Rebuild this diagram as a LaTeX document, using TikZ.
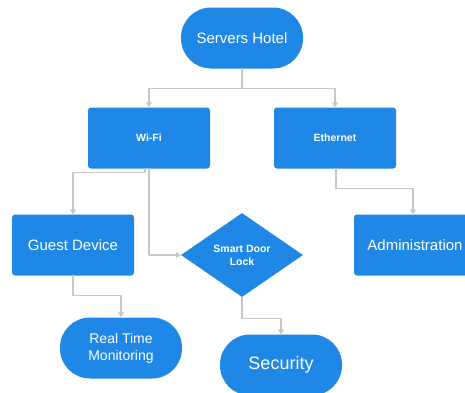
\documentclass[tikz,border=0pt]{standalone}
\usepackage{fontspec}
\setmainfont{Liberation Sans}
\usepackage{tikz}
\definecolor{boxblue}{rgb}{0.12,0.53,0.90}
\definecolor{linegray}{rgb}{0.78,0.78,0.78}
\usetikzlibrary{arrows.meta,shapes.geometric}

\begin{document}
\begin{tikzpicture}[x=1pt,y=-1pt, line cap=round,line join=round,
	box/.style={rectangle, rounded corners=3pt, fill=boxblue, text=white, minimum width=122pt, minimum height=61pt, inner sep=0pt, align=center},
	pill/.style={box, rounded corners=30pt},
	door/.style={diamond, fill=boxblue, text=white, minimum width=122pt, minimum height=84pt, inner sep=0pt, align=center},
	arr/.style={draw=linegray, line width=1.2pt, -{Triangle[width=6pt,length=5pt]}}]
	\useasboundingbox (0,0) rectangle (465,392);
	% nodes
	\node [pill, font=\fontsize{15}{17}\selectfont] (hotel) at (242,38) {Servers Hotel};
	\node [box, font=\bfseries\fontsize{10.5}{12}\selectfont] (wifi) at (149,138) {Wi-Fi};
	\node [box, font=\bfseries\fontsize{10.5}{12}\selectfont] (eth) at (335,138) {Ethernet};
	\node [box, font=\fontsize{15}{17}\selectfont] (guest) at (73,245) {Guest Device};
	\node [door, font=\bfseries\fontsize{10.5}{13}\selectfont] (lock) at (242,255) {Smart Door\\Lock};
	\node [box, font=\fontsize{15}{17}\selectfont] (admin) at (415,245) {Administration};
	\node [pill, font=\fontsize{14}{17}\selectfont] (rtm) at (121,348) {Real Time\\Monitoring};
	\node [pill, font=\fontsize{18}{20}\selectfont] (sec) at (281,365) {Security};
	% connectors
	\draw [arr] (hotel.south) -- ++(0,20) -| (wifi.north);
	\draw [arr] (hotel.south) -- ++(0,20) -| (eth.north);
	\draw [arr] ([xshift=-4pt]wifi.south) -- ++(0,4) -| (guest.north);
	\draw [arr] (wifi.south) |- (lock.west);
	\draw [arr] ([xshift=1pt]eth.south) -- ++(0,20) -| ([xshift=-2pt]admin.north);
	\draw [arr] (guest.south) -- ++(0,20) -| (rtm.north);
	\draw [arr] (lock.south) -- ++(0,21) -| (sec.north);
\end{tikzpicture}
\end{document}
